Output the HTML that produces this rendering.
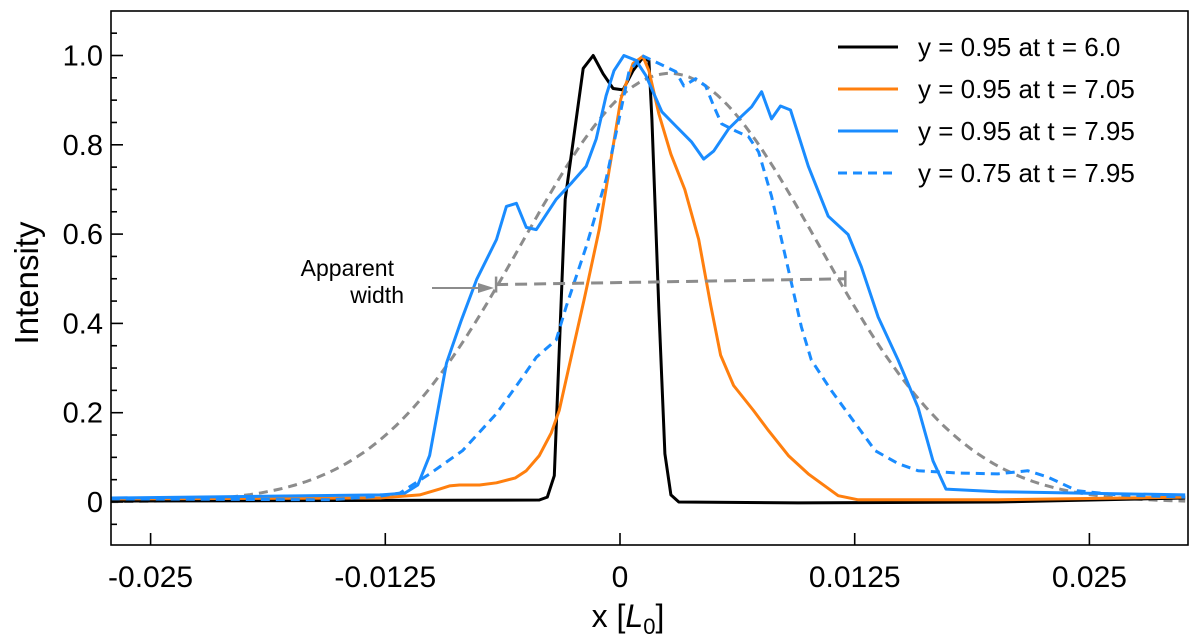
<!DOCTYPE html>
<html><head><meta charset="utf-8"><style>
html,body{margin:0;padding:0;background:#fff;}
svg{display:block;font-family:"Liberation Sans",Arial,sans-serif;}
</style></head><body>
<svg id="chart" width="1200" height="643" viewBox="0 0 1200 643">
<g id="marks"></g>
<g id="axes"></g>
</svg>
<script>
const xTicks=[-0.025,-0.0125,0,0.0125,0.025];
const xTickLabels=["-0.025","-0.0125","0","0.0125","0.025"];
const yTicks=[0,0.2,0.4,0.6,0.8,1.0];
const yTickLabels=["0","0.2","0.4","0.6","0.8","1.0"];
// x values in units of 1e-3 L0
const blackX=[-27.12,-4.3,-3.87,-3.5,-2.92,-1.96,-1.43,-0.9,-0.37,0.16,0.69,1.17,1.54,1.7,2.07,2.39,2.71,3.13,9.5,20.1,30.1];
const blackY=[0.002,0.0045,0.011,0.059,0.678,0.971,1.0,0.959,0.926,0.923,0.966,0.993,0.989,0.858,0.43,0.108,0.016,0,-0.002,0,0.009];
const orangeX=[-27.12,-12.79,-10.67,-9.61,-9.08,-8.55,-7.48,-6.58,-5.57,-4.99,-4.3,-3.66,-3.24,-2.71,-1.91,-1.11,-0.48,0.05,0.69,1.22,1.54,2.07,2.71,3.45,4.19,4.83,5.36,6.05,7.11,7.91,8.97,10.03,11.62,12.69,20.12,30.1];
const orangeY=[0.007,0.009,0.016,0.029,0.036,0.038,0.038,0.043,0.054,0.07,0.104,0.155,0.205,0.304,0.453,0.61,0.768,0.903,0.982,0.998,0.966,0.869,0.779,0.7,0.588,0.441,0.329,0.261,0.205,0.16,0.104,0.063,0.014,0.005,0.005,0.011];
const blueX=[-27.12,-12.79,-11.46,-10.77,-10.14,-9.24,-8.44,-7.64,-6.58,-6.05,-5.52,-4.99,-4.46,-3.4,-2.55,-1.8,-1.27,-0.74,-0.32,0.21,0.85,1.38,2.23,2.97,3.82,4.46,4.99,5.79,6.32,7.01,7.54,8.07,8.55,9.08,10.03,11.09,12.15,12.85,13.75,14.81,15.87,16.67,17.36,20.12,30.1];
const blueY=[0.009,0.016,0.02,0.038,0.104,0.311,0.408,0.498,0.588,0.662,0.669,0.615,0.61,0.678,0.716,0.752,0.813,0.91,0.966,1.0,0.989,0.955,0.874,0.842,0.806,0.768,0.786,0.836,0.858,0.885,0.919,0.858,0.887,0.878,0.752,0.64,0.599,0.527,0.414,0.318,0.212,0.092,0.029,0.023,0.016];
const blueDashX=[-27.12,-15.45,-12.79,-11.73,-10.14,-8.39,-6.58,-5.2,-4.46,-3.4,-2.87,-1.8,-0.74,-0.05,0.48,1.17,2.07,2.97,3.4,4.03,4.56,4.99,5.41,6.16,6.85,7.38,8.07,8.6,9.13,9.66,10.19,11.25,12.53,13.59,14.81,15.87,17.99,20.12,21.71,22.77,24.36,26.49,30.1];
const blueDashY=[0.007,0.005,0.013,0.02,0.063,0.115,0.198,0.279,0.324,0.363,0.437,0.572,0.723,0.858,0.964,1.0,0.982,0.964,0.932,0.948,0.932,0.887,0.847,0.831,0.818,0.784,0.685,0.588,0.491,0.392,0.318,0.25,0.176,0.115,0.086,0.07,0.065,0.063,0.07,0.056,0.025,0.016,0.011];
// Gaussian fit: amplitude, centre (1e-3), sigma (1e-3)
const gaussParams=[0.96,2.65,7.85];
const widthX=[-6.6,12.0];
const widthY=[0.487,0.5];
const legendLabels=["y = 0.95 at t = 6.0","y = 0.95 at t = 7.05","y = 0.95 at t = 7.95","y = 0.75 at t = 7.95"];

const L=111,R=1188,T=11,B=545;
const X0=620,XS=18776,Y0=502,YS=446.5;
const sx=v=>X0+v*XS, sy=v=>Y0-v*YS, sxm=v=>sx(v/1000);
const NS="http://www.w3.org/2000/svg";
const marks=document.getElementById('marks'),axes=document.getElementById('axes');
function mk(tag,attrs,parent){const e=document.createElementNS(NS,tag);for(const k in attrs)e.setAttribute(k,attrs[k]);parent.appendChild(e);return e;}
function path(xs,ys,color,dash,name){
  let d=xs.map((x,i)=>(i?'L':'M')+sxm(x).toFixed(1)+' '+sy(ys[i]).toFixed(1)).join(' ');
  const p=mk('path',{d:d,fill:'none',stroke:color,'stroke-width':3,'stroke-linejoin':'round','stroke-dasharray':dash||'none'},marks);
  
  
}
const defs=mk('defs',{},document.getElementById('chart'));
const cp=mk('clipPath',{id:'cp'},defs);mk('rect',{x:L,y:T,width:R-L,height:B-T},cp);
marks.setAttribute('clip-path','url(#cp)');
const gx=[],gy=[];
for(let x=-27.2;x<=30.2;x+=0.3){gx.push(x);gy.push(gaussParams[0]*Math.exp(-Math.pow(x-gaussParams[1],2)/(2*gaussParams[2]*gaussParams[2])));}
path(gx,gy,'#8c8c8c','9 6','gaussian-fit');
path(blackX,blackY,'#000','', 'series-t6');
path(orangeX,orangeY,'#ff7f0e','', 'series-t705');
path(blueDashX,blueDashY,'#1a8cff','9 6','series-y075-t795');
path(blueX,blueY,'#1a8cff','', 'series-t795');
path(widthX,widthY,'#8c8c8c','12 7','apparent-width-line');
for(let i=0;i<2;i++){const t=mk('line',{x1:sxm(widthX[i]),x2:sxm(widthX[i]),y1:sy(widthY[i])-8,y2:sy(widthY[i])+8,stroke:'#8c8c8c','stroke-width':2.5},marks);

}
const ar=mk('line',{x1:432,y1:288,x2:480,y2:288,stroke:'#8c8c8c','stroke-width':2},axes);


const ah=mk('path',{d:'M494 288 L478 283 L478 293 Z',fill:'#8c8c8c'},axes);


const at1=mk('text',{x:394,y:276,'font-size':23,'text-anchor':'end',fill:'#000'},axes);at1.textContent='Apparent';


const at2=mk('text',{x:404,y:303,'font-size':23,'text-anchor':'end',fill:'#000'},axes);at2.textContent='width';


const fr=mk('rect',{x:L,y:T,width:R-L,height:B-T,fill:'none',stroke:'#000','stroke-width':1.6},axes);


xTicks.forEach((v,i)=>{
  const tl=mk('line',{x1:sx(v),x2:sx(v),y1:B,y2:B-12,stroke:'#000','stroke-width':1.6},axes);
  
  
  const t=mk('text',{x:sx(v),y:587,'font-size':30,'text-anchor':'middle',fill:'#000'},axes);t.textContent=xTickLabels[i];
  
  
});
for(let k=-1;k<=21;k++){const v=k*0.05;const y=sy(v);if(y<T+2||y>B-2)continue;
  const major=k%4===0&&k>=0;
  const tl=mk('line',{x1:L,x2:L+(major?12:6),y1:y,y2:y,stroke:'#000','stroke-width':1.6},axes);
  
  
}
yTicks.forEach((v,i)=>{
  const t=mk('text',{x:103,y:sy(v)+10,'font-size':29,'text-anchor':'end',fill:'#000'},axes);t.textContent=yTickLabels[i];
  
  
});
const yt=mk('text',{x:0,y:0,'font-size':33,'text-anchor':'middle',fill:'#000',transform:'translate(38,283) rotate(-90)'},axes);yt.textContent='Intensity';


const xt=mk('text',{x:628,y:627,'font-size':32,'text-anchor':'middle',fill:'#000'},axes);
xt.innerHTML='x  [<tspan font-style="italic">L</tspan><tspan font-size="22" dy="7">0</tspan><tspan dy="-7">]</tspan>';
xt.setAttribute('xml:space','preserve');


const lc=['#000','#ff7f0e','#1a8cff','#1a8cff'],ld=['none','none','none','9 6'],ly=[47,89,131,173];
legendLabels.forEach((s,i)=>{
  const g=mk('g',{},axes);
  
  
  mk('line',{x1:838,x2:898,y1:ly[i],y2:ly[i],stroke:lc[i],'stroke-width':3,'stroke-dasharray':ld[i]},g);
  const t=mk('text',{x:918,y:ly[i]+9,'font-size':26,fill:'#000'},g);t.textContent=s;
});
</script>
</body></html>
